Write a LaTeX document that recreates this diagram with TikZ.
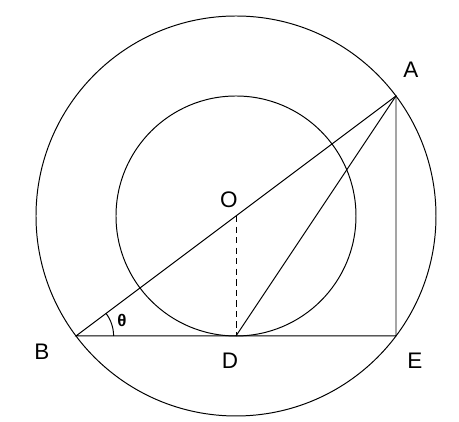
\documentclass[tikz,border=0pt]{standalone}
\usepackage{fontspec}
\setmainfont{Liberation Sans}
\begin{document}
\begin{tikzpicture}[line width=0.7pt,
  lbl/.style={font=\fontsize{16}{19}\selectfont}]
\useasboundingbox (-5.9,-5.15) rectangle (5.575,5.4);
\coordinate (O) at (0,0);
\coordinate (A) at (4,3);
\coordinate (B) at (-4,-3);
\coordinate (D) at (0,-3);
\coordinate (E) at (4,-3);
\draw (O) circle (5);
\draw (O) circle (3);
\draw (B) -- (A) -- (E) -- cycle;
\draw (D) -- (A);
\draw[dash pattern=on 4.5pt off 3pt] (O) -- (D);
%angle at B
\draw (B) ++(0.94,0) arc (0:36.87:0.94);
\node[font=\fontsize{12}{14}\selectfont\bfseries] (th) at (-2.85,-2.6) {θ};
\node[lbl] (labA) at (4.375,3.65) {A};
\node[lbl] (labO) at (-0.175,0.4) {O};
\node[lbl] (labB) at (-4.85,-3.4) {B};
\node[lbl] (labD) at (-0.15,-3.625) {D};
\node[lbl] (labE) at (4.475,-3.625) {E};
\end{tikzpicture}
\end{document}
